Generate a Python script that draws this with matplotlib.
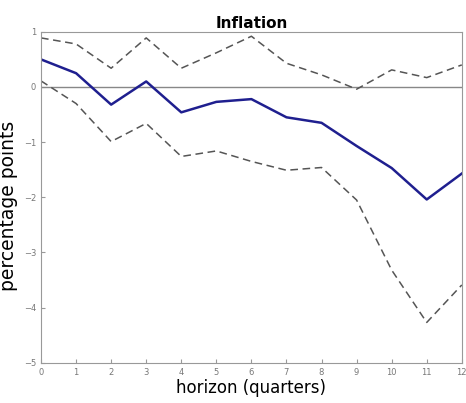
import matplotlib
matplotlib.use('Agg')
import matplotlib.pyplot as plt
import numpy as np

# impulse response of inflation, with upper/lower bands
horizon = np.arange(0, 13)
irf = [0.5, 0.25, -0.32, 0.1, -0.46, -0.27, -0.22, -0.55, -0.65, -1.07, -1.47, -2.04, -1.57]
upper = [0.89, 0.78, 0.34, 0.89, 0.34, 0.62, 0.92, 0.43, 0.22, -0.04, 0.31, 0.17, 0.4]
lower = [0.11, -0.3, -0.99, -0.66, -1.26, -1.16, -1.35, -1.51, -1.46, -2.05, -3.32, -4.27, -3.59]
yticks = [-5, -4, -3, -2, -1, 0, 1]

fig = plt.figure(figsize=(4.66, 4.03), dpi=100)
ax = fig.add_axes([0.088, 0.10, 0.903, 0.821])

ax.axhline(0, color='#888888', linewidth=1.0)
ax.plot(horizon, upper, color='#555555', linestyle='--', linewidth=1.1, dashes=(5, 3))
ax.plot(horizon, lower, color='#555555', linestyle='--', linewidth=1.1, dashes=(5, 3))
ax.plot(horizon, irf, color='#1f1f8f', linewidth=1.8)

ax.set_xlim(0, 12)
ax.set_ylim(-5, 1)
ax.set_xticks(horizon)
ax.set_yticks(yticks)
ax.tick_params(direction='in', length=3, labelsize=6, colors='#999999', labelcolor='#777777')
for s in ax.spines.values():
    s.set_color('#999999')

ax.set_title('Inflation', fontsize=11, fontweight='bold', pad=3)
ax.set_xlabel('horizon (quarters)', fontsize=12, labelpad=2)
ax.set_ylabel('percentage points', fontsize=13.5)
ax.yaxis.set_label_coords(-0.055, 0.475)

fig.savefig('out.png', dpi=100)
